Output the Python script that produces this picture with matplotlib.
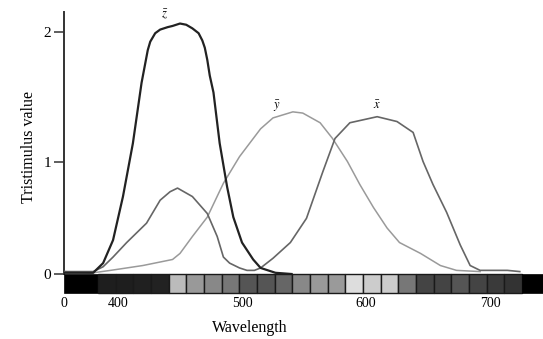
import numpy as np
import matplotlib
matplotlib.use('Agg')
import matplotlib.pyplot as plt

plt.rcParams['font.family'] = ['Liberation Serif', 'DejaVu Serif']
plt.rcParams['mathtext.fontset'] = 'stix'

# colour matching functions (wavelength nm, value)
z_wl = [356, 380, 388, 396, 404, 412, 419, 424, 426, 430, 434, 440, 444, 450, 455,
        460, 465, 468, 470, 472, 474, 477, 482, 488, 493, 500, 509, 515, 527, 540]
z_val = [0.01, 0.01, 0.09, 0.28, 0.64, 1.08, 1.58, 1.85, 1.92, 1.99, 2.02, 2.04, 2.05,
         2.07, 2.06, 2.03, 1.99, 1.93, 1.87, 1.77, 1.64, 1.50, 1.08, 0.72, 0.47, 0.26,
         0.12, 0.05, 0.01, 0.0]

x_wl = [356, 380, 388, 396, 407, 423, 434, 442, 448, 460, 472, 480, 485, 490, 498,
        504, 510, 515, 525, 539, 552, 565, 575, 587, 609, 625, 638, 646, 654, 665,
        676, 684, 692, 714, 724]
x_val = [0.02, 0.02, 0.06, 0.14, 0.26, 0.42, 0.61, 0.68, 0.71, 0.64, 0.50, 0.31, 0.14,
         0.09, 0.05, 0.03, 0.03, 0.05, 0.13, 0.26, 0.46, 0.84, 1.12, 1.25, 1.30, 1.26,
         1.17, 0.93, 0.74, 0.51, 0.24, 0.07, 0.03, 0.03, 0.02]

y_wl = [356, 380, 394, 420, 444, 450, 460, 472, 485, 498, 515, 525, 541, 549, 563,
        573, 585, 595, 606, 617, 627, 644, 660, 673, 692]
y_val = [0.02, 0.01, 0.03, 0.07, 0.12, 0.17, 0.31, 0.47, 0.75, 0.97, 1.20, 1.29, 1.34,
         1.33, 1.25, 1.12, 0.93, 0.74, 0.55, 0.38, 0.26, 0.17, 0.07, 0.03, 0.02]

# grey squares of the spectrum strip
strip_grey = ['#1e1e1e', '#1e1e1e', '#202020', '#222222', '#bbbbbb', '#999999',
              '#888888', '#777777', '#555555', '#555555', '#666666', '#888888',
              '#999999', '#9a9a9a', '#dddddd', '#cccccc', '#cccccc', '#777777',
              '#444444', '#444444', '#555555', '#444444', '#3a3a3a', '#333333']

x_ticks = ['0', '400', '500', '600', '700']
y_ticks = ['0', '1', '2']

W, H = 543, 339
fig = plt.figure(figsize=(W / 100, H / 100), dpi=100)
fig.patch.set_facecolor('white')

# pixel -> data helpers (0 at y=274px, 121 px per unit; 1.24 px per nm)
def nm(px):
    return 400 + (px - 118) / 1.24

def val(py):
    return (274 - py) / 121.

ax = fig.add_axes([64 / W, (H - 293) / H, (W - 64) / W, (293 - 12) / H])
ax.set_xlim(nm(64), nm(543))
ax.set_ylim(val(293), val(12))

ax.plot(y_wl, y_val, color='#9a9a9a', lw=1.1, zorder=3)
ax.plot(x_wl, x_val, color='#666666', lw=1.2, zorder=3)
ax.plot(z_wl, z_val, color='#222222', lw=1.6, zorder=4)

# spectrum strip under the axis
h = val(293)
ax.bar(nm(64), h, width=nm(98) - nm(64), bottom=0, align='edge', color='black',
       edgecolor='black', lw=0.5, zorder=5, clip_on=False)
edges = np.linspace(nm(98), nm(522), len(strip_grey) + 1)
ax.bar(edges[:-1], h, width=np.diff(edges), bottom=0, align='edge', color=strip_grey,
       edgecolor='#1a1a1a', lw=1.0, zorder=5, clip_on=False)
ax.bar(nm(522), h, width=nm(543) - nm(522), bottom=0, align='edge', color='black',
       edgecolor='black', lw=0.5, zorder=5, clip_on=False)

for s in ['top', 'right', 'bottom']:
    ax.spines[s].set_visible(False)
ax.spines['left'].set_color('#333333')
ax.spines['left'].set_linewidth(1.4)
ax.spines['left'].set_bounds(0, val(12))

ax.set_yticks([0, val(162), 2])
ax.set_yticklabels(y_ticks, fontsize=11)
ax.tick_params(axis='y', length=7, width=1.1, color='#333333', pad=2)
ax.set_xticks([nm(64), 400, 500, 600, 700])
ax.set_xticklabels(x_ticks, fontsize=10)
ax.tick_params(axis='x', length=0, pad=3)

# curve labels
ax.text(nm(165), val(14), r'$\bar{z}$', fontsize=9, ha='center', va='center')
ax.text(nm(277), val(106), r'$\bar{y}$', fontsize=9, ha='center', va='center')
ax.text(nm(377), val(106), r'$\bar{x}$', fontsize=9, ha='center', va='center')

fig.text(29 / W, 1 - 147 / H, 'Tristimulus value', rotation=90, fontsize=11.5,
         ha='center', va='center')
fig.text(250 / W, 1 - 328 / H, 'Wavelength', fontsize=11.5, ha='center', va='center')

fig.savefig('out.png', dpi=100)
